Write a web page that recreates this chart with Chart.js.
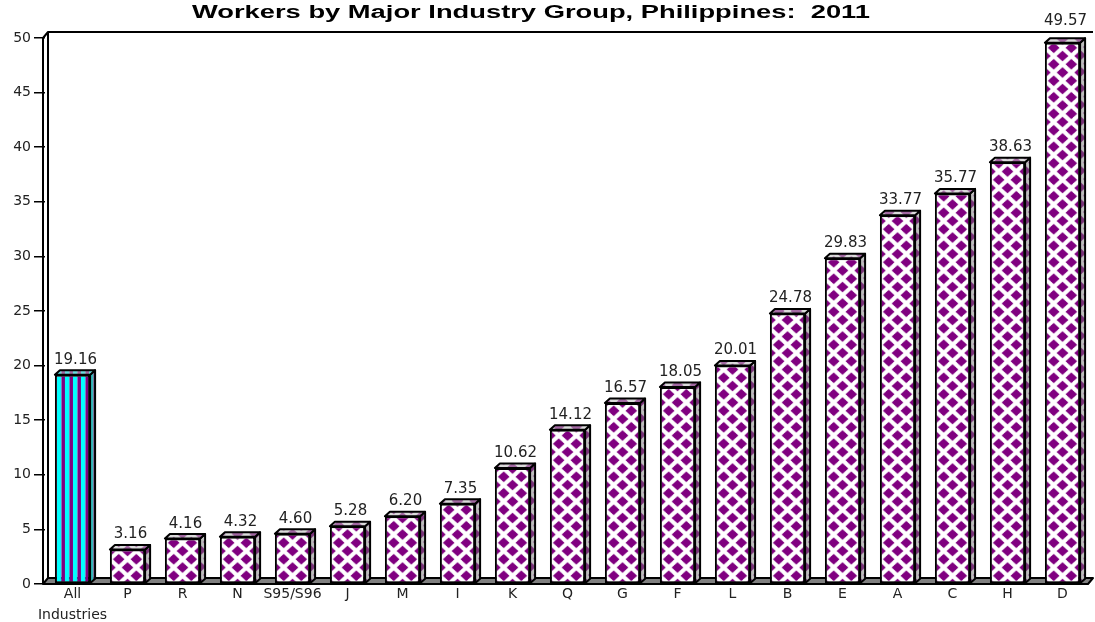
<!DOCTYPE html>
<html>
<head>
<meta charset="utf-8">
<script src="https://cdn.jsdelivr.net/npm/chart.js@4.4.1/dist/chart.umd.min.js"></script>
<style>
    body { margin: 0; background: #fff; }
    #wrap { width: 1095px; height: 622px; position: relative; }
</style>
</head>
<body>
<div id="wrap"><canvas id="grafico"></canvas></div>
<script>
const titulo = "Workers by Major Industry Group, Philippines:  2011";
const industrias = [["All", "Industries"], "P", "R", "N", "S95/S96", "J", "M", "I", "K", "Q", "G", "F", "L", "B", "E", "A", "C", "H", "D"];
const valores = [19.16, 3.16, 4.16, 4.32, 4.60, 5.28, 6.20, 7.35, 10.62, 14.12, 16.57, 18.05, 20.01, 24.78, 29.83, 33.77, 35.77, 38.63, 49.57];
const ticksY = [0, 50, 5]; // min, max, passo

const ROXO = "#800080";
const CIANO = "#00ffff";
const PROF_X = 5, PROF_Y = 4.5;   // profundidade das barras
const CHAO_X = 5, CHAO_Y = 6;     // profundidade do chao / parede
const LARG_BARRA = 0.64;

// ladrilhos dos padroes
function ladrilhoLosangos() {
    const c = document.createElement("canvas");
    c.width = 40; c.height = 40;
    const g = c.getContext("2d");
    g.fillStyle = "#ffffff";
    g.fillRect(0, 0, 40, 40);
    g.fillStyle = ROXO;
    g.filter = "blur(0.6px)";
    const centros = [];
    for (let i = -1; i <= 3; i++) for (let j = -1; j <= 3; j++) centros.push([i * 20, j * 20]);
    for (let i = -1; i < 3; i++) for (let j = -1; j < 3; j++) centros.push([i * 20 + 10, j * 20 + 10]);
    const r = 6.6;
    centros.forEach(([x, y]) => {
        g.beginPath();
        g.moveTo(x, y - r); g.lineTo(x + r, y); g.lineTo(x, y + r); g.lineTo(x - r, y);
        g.closePath();
        g.fill();
    });
    return c;
}

function ladrilhoListras() {
    const c = document.createElement("canvas");
    c.width = 8; c.height = 8;
    const g = c.getContext("2d");
    g.fillStyle = CIANO; g.fillRect(0, 0, 4.5, 8);
    g.fillStyle = ROXO; g.fillRect(4.5, 0, 3.5, 8);
    return c;
}

const tileLosango = ladrilhoLosangos();
const tileListra = ladrilhoListras();

function padraoPara(ctx2d, indice, esquerda, base, largura) {
    if (indice === 0) {
        const p = ctx2d.createPattern(tileListra, "repeat");
        p.setTransform(new DOMMatrix().translate(esquerda + 2, base));
        return p;
    }
    const p = ctx2d.createPattern(tileLosango, "repeat");
    p.setTransform(new DOMMatrix().translate(esquerda, base).scale((largura / 2) / 20, 16.5 / 20));
    return p;
}

function corBarra(c) {
    const chart = c.chart;
    if (!chart.chartArea || !chart.scales.x) return ROXO;
    const sx = chart.scales.x, sy = chart.scales.y;
    const larg = sx.width / industrias.length * LARG_BARRA;
    const centro = sx.getPixelForValue(c.dataIndex);
    return padraoPara(chart.ctx, c.dataIndex, centro - larg / 2, sy.getPixelForValue(0), larg);
}

const efeito3d = {
    id: "efeito3d",
    beforeDatasetsDraw(chart) {
        const { ctx, chartArea: a } = chart;
        const L = a.left, R = a.right, B = a.bottom, T = a.top;
        ctx.save();
        ctx.lineWidth = 2;
        ctx.strokeStyle = "#000";
        ctx.lineJoin = "round";
        // chao
        ctx.beginPath();
        ctx.moveTo(L - 2, B);
        ctx.lineTo(R - 2, B);
        ctx.lineTo(R - 2 + CHAO_X, B - CHAO_Y);
        ctx.lineTo(L - 2 + CHAO_X, B - CHAO_Y);
        ctx.closePath();
        ctx.fillStyle = "#808080";
        ctx.fill();
        ctx.stroke();
        // parede
        ctx.beginPath();
        ctx.moveTo(L - 2, B);
        ctx.lineTo(L - 2, T);
        ctx.lineTo(L - 2 + CHAO_X, T - CHAO_Y);
        ctx.lineTo(R + 3, T - CHAO_Y);
        ctx.moveTo(L - 2 + CHAO_X, T - CHAO_Y);
        ctx.lineTo(L - 2 + CHAO_X, B - CHAO_Y);
        ctx.stroke();
        ctx.restore();
    },
    afterDatasetsDraw(chart) {
        const { ctx, chartArea: a } = chart;
        const linhaTopo = a.top - CHAO_Y;
        const meta = chart.getDatasetMeta(0);
        ctx.save();
        ctx.lineWidth = 2;
        ctx.strokeStyle = "#000";
        ctx.lineJoin = "round";
        meta.data.forEach((el, i) => {
            const esq = el.x - el.width / 2, dir = el.x + el.width / 2;
            const topo = el.y, base = el.base;
            const pad = padraoPara(ctx, i, esq, base, el.width);
            // lateral
            ctx.beginPath();
            ctx.moveTo(dir, topo);
            ctx.lineTo(dir + PROF_X, topo - PROF_Y);
            ctx.lineTo(dir + PROF_X, base - PROF_Y);
            ctx.lineTo(dir, base);
            ctx.closePath();
            ctx.fillStyle = pad; ctx.fill();
            ctx.fillStyle = "rgba(110,110,110,0.45)"; ctx.fill();
            ctx.stroke();
            // topo
            ctx.beginPath();
            ctx.moveTo(esq, topo);
            ctx.lineTo(esq + PROF_X, topo - PROF_Y);
            ctx.lineTo(dir + PROF_X, topo - PROF_Y);
            ctx.lineTo(dir, topo);
            ctx.closePath();
            ctx.fillStyle = pad; ctx.fill();
            ctx.fillStyle = "rgba(190,190,190,0.55)"; ctx.fill();
            ctx.stroke();
            // rotulo (sobe acima da moldura se cruzar a linha do topo)
            let y = topo - 11;
            if (y > linhaTopo - 1 && y - 11 < linhaTopo + 1) y = linhaTopo - 7;
            ctx.fillStyle = "#222";
            ctx.font = '15px "DejaVu Sans"';
            ctx.textAlign = "center";
            ctx.textBaseline = "alphabetic";
            ctx.fillText(valores[i].toFixed(2), el.x + 3, y);
        });
        ctx.restore();
    },
    afterDraw(chart) {
        const { ctx } = chart;
        ctx.save();
        ctx.font = 'bold 18px "Liberation Sans"';
        ctx.fillStyle = "#000";
        ctx.textAlign = "center";
        ctx.textBaseline = "alphabetic";
        const w = ctx.measureText(titulo).width;
        ctx.translate(531, 18);
        ctx.scale(678 / w, 1);
        ctx.fillText(titulo, 0, 0);
        ctx.restore();
    }
};

new Chart(document.getElementById("grafico"), {
    type: "bar",
    data: {
        labels: industrias,
        datasets: [{
            data: valores,
            backgroundColor: corBarra,
            borderColor: "#000",
            borderWidth: 2,
            borderSkipped: false,
            barPercentage: LARG_BARRA,
            categoryPercentage: 1
        }]
    },
    options: {
        responsive: true,
        maintainAspectRatio: false,
        animation: false,
        layout: { padding: { top: 38, right: 5, left: 0, bottom: 0 } },
        plugins: {
            legend: { display: false },
            tooltip: { enabled: false },
            title: { display: false }
        },
        scales: {
            x: {
                grid: { display: false, drawTicks: false, tickLength: 0 },
                border: { display: false },
                ticks: {
                    color: "#222",
                    font: { family: "DejaVu Sans", size: 14, lineHeight: 1.5 },
                    maxRotation: 0,
                    autoSkip: false,
                    padding: 0
                },
                afterFit(s) { s.height = 38; }
            },
            y: {
                min: ticksY[0],
                max: ticksY[1],
                grid: { drawOnChartArea: false, drawTicks: true, tickLength: 11, color: "#000", lineWidth: 1.5 },
                border: { display: false },
                ticks: {
                    stepSize: ticksY[2],
                    color: "#222",
                    font: { family: "DejaVu Sans", size: 14 },
                    padding: 3
                },
                afterFit(s) { s.width = 45; }
            }
        }
    },
    plugins: [efeito3d]
});
</script>
</body>
</html>
